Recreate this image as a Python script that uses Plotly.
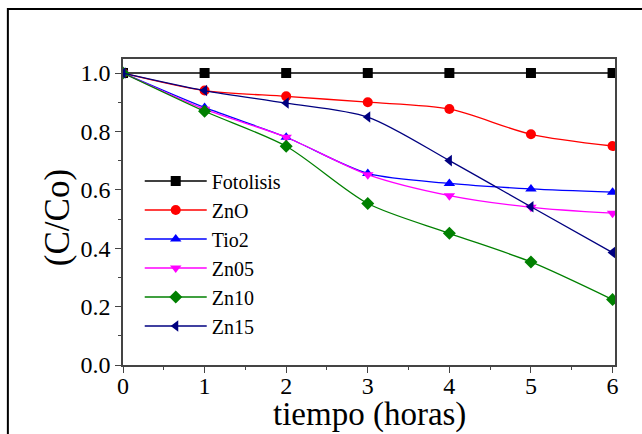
import plotly.graph_objects as go

tiempo = [0, 1, 2, 3, 4, 5, 6]
fotolisis = [1.0, 1.0, 1.0, 1.0, 1.0, 1.0, 1.0]
zno = [1.0, 0.94, 0.92, 0.90, 0.877, 0.79, 0.75]
tio2 = [1.0, 0.882, 0.78, 0.656, 0.622, 0.603, 0.592]
zn05 = [1.0, 0.876, 0.78, 0.652, 0.58, 0.54, 0.52]
zn10 = [1.0, 0.869, 0.749, 0.553, 0.451, 0.353, 0.224]
zn15 = [1.0, 0.94, 0.897, 0.849, 0.70, 0.542, 0.385]

series = [
    ("Fotolisis", fotolisis, "black", "square"),
    ("ZnO", zno, "#ff0000", "circle"),
    ("Tio2", tio2, "#0000ff", "triangle-up"),
    ("Zn05", zn05, "#ff00ff", "triangle-down"),
    ("Zn10", zn10, "#008000", "diamond"),
    ("Zn15", zn15, "#000080", "triangle-left"),
]

FONT = "Liberation Serif"

fig = go.Figure()
for name, vals, color, sym in series:
    fig.add_trace(go.Scatter(
        x=tiempo, y=vals, name=name, mode="lines+markers",
        line=dict(color=color, width=1.3, shape="spline", smoothing=0.8),
        marker=dict(symbol=sym, size=10, color=color),
    ))

axis_common = dict(
    showline=True, linecolor="#444", linewidth=1.5, mirror=True,
    ticks="outside", ticklen=6, tickwidth=1.2, tickcolor="#444",
    showgrid=False, zeroline=False, automargin=False,
    tickfont=dict(family=FONT, size=24, color="black"),
)

fig.update_xaxes(
    range=[0, 6.03], tickvals=[0, 1, 2, 3, 4, 5, 6],
    minor=dict(dtick=0.5, ticks="outside", ticklen=3, tickcolor="#444"),
    ticklabelstandoff=-8,
    **axis_common,
)
fig.update_yaxes(
    range=[0, 1.048], tickvals=[0, 0.2, 0.4, 0.6, 0.8, 1.0], tickformat=".1f",
    minor=dict(dtick=0.1, ticks="outside", ticklen=3, tickcolor="#444"),
    **axis_common,
)

fig.add_annotation(text="(C/Co)", xref="paper", yref="paper", x=-0.134, y=0.48,
                   xanchor="center", yanchor="middle", textangle=-90, showarrow=False,
                   font=dict(family=FONT, size=35, color="black"))
fig.add_annotation(text="tiempo (horas)", xref="paper", yref="paper", x=0.502, y=-0.163,
                   xanchor="center", yanchor="middle", showarrow=False,
                   font=dict(family=FONT, size=33, color="black"))

fig.add_shape(type="rect", xref="paper", yref="paper",
              x0=-0.234, y0=-0.5, x1=1.3, y1=1.163,
              line=dict(color="black", width=2), fillcolor="rgba(0,0,0,0)")

fig.update_layout(
    width=642, height=434,
    margin=dict(l=123, r=27, t=59, b=69),
    paper_bgcolor="white", plot_bgcolor="white",
    font=dict(family=FONT, color="black"),
    showlegend=True,
    legend=dict(x=0.034, y=0.665, xanchor="left", yanchor="top",
                font=dict(family=FONT, size=20, color="black"),
                bgcolor="rgba(0,0,0,0)", itemwidth=62, tracegroupgap=0),
)

fig.write_html("out.html", config={"displayModeBar": False},
               post_script="document.body.style.margin='0';")
